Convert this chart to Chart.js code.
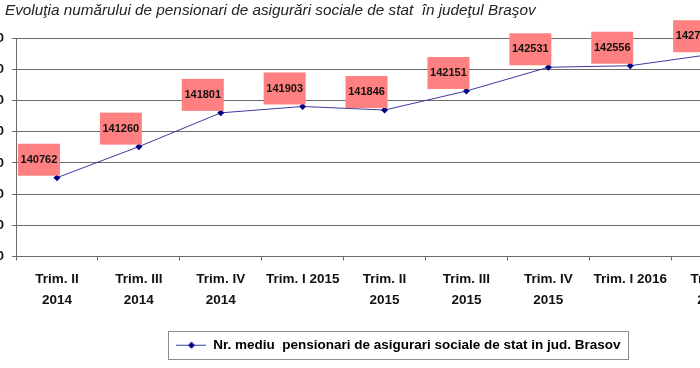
<!DOCTYPE html>
<html>
<head>
<meta charset="utf-8">
<script src="https://cdn.jsdelivr.net/npm/chart.js@4/dist/chart.umd.min.js"></script>
<style>
    body { margin: 0; background: #fff; }
    #wrap { position: relative; width: 700px; height: 368px; overflow: hidden; background: #fff; }
    #title { position: absolute; left: 5px; top: 1px; font: italic 15.3px "Liberation Sans", Arial, sans-serif; color: #222; white-space: pre; }
    #chart { position: absolute; left: -42px; top: 0; }
</style>
</head>
<body>
<div id="wrap">
    <canvas id="chart" width="881" height="368"></canvas>
    <div id="title">Evoluţia numărului de pensionari de asigurări sociale de stat  în judeţul Braşov</div>
</div>
<script>
// quarters (the 10th one lies outside the cropped picture)
const quarters = [
    ['Trim. II', '2014'], ['Trim. III', '2014'], ['Trim. IV', '2014'], 'Trim. I 2015',
    ['Trim. II', '2015'], ['Trim. III', '2015'], ['Trim. IV', '2015'], 'Trim. I 2016',
    ['Trim. II', '2016'], ['Trim. III', '2016']
];
const pensioners = [140762, 141260, 141801, 141903, 141846, 142151, 142531, 142556, 142740, null];
const seriesName = 'Nr. mediu  pensionari de asigurari sociale de stat in jud. Brasov';
const yMin = 139500;
const yMax = 143000;
const yStep = 500;

const gridColor = '#6a6a6a';
const lineColor = '#3a3aa0';
const markerColor = '#000080';
const boxColor = '#ff8080';
const fontFamily = '"Liberation Sans", Arial, sans-serif';

function legendMarker() {
    const c = document.createElement('canvas');
    c.width = 30;
    c.height = 9;
    const ctx = c.getContext('2d');
    ctx.strokeStyle = lineColor;
    ctx.lineWidth = 1;
    ctx.beginPath();
    ctx.moveTo(0, 4.5);
    ctx.lineTo(30, 4.5);
    ctx.stroke();
    ctx.fillStyle = markerColor;
    ctx.beginPath();
    ctx.moveTo(15, 1);
    ctx.lineTo(18.5, 4.5);
    ctx.lineTo(15, 8);
    ctx.lineTo(11.5, 4.5);
    ctx.closePath();
    ctx.fill();
    return c;
}

const valueBoxes = {
    id: 'valueBoxes',
    afterDatasetsDraw(chart) {
        const ctx = chart.ctx;
        const meta = chart.getDatasetMeta(0);
        ctx.save();
        ctx.font = 'bold 11px ' + fontFamily;
        ctx.textAlign = 'center';
        ctx.textBaseline = 'middle';
        meta.data.forEach((pt, i) => {
            const v = pensioners[i];
            if (v == null) return;
            const cx = pt.x - 18;
            const bottom = pt.y - 2;
            ctx.fillStyle = boxColor;
            ctx.fillRect(cx - 21, bottom - 32, 42, 32);
            ctx.fillStyle = '#111';
            ctx.fillText(String(v), cx, bottom - 16);
        });
        ctx.restore();
    }
};

const legendFrame = {
    id: 'legendFrame',
    afterDraw(chart) {
        const lg = chart.legend;
        if (!lg || !lg.legendHitBoxes.length) return;
        const hb = lg.legendHitBoxes[0];
        const ctx = chart.ctx;
        ctx.save();
        ctx.strokeStyle = '#8c8c8c';
        ctx.lineWidth = 1;
        ctx.strokeRect(Math.round(hb.left - 8) + 0.5, Math.round(hb.top - 8) + 0.5, Math.round(hb.width + 16), Math.round(hb.height + 14));
        ctx.restore();
    }
};

new Chart(document.getElementById('chart'), {
    type: 'line',
    data: {
        labels: quarters,
        datasets: [{
            label: seriesName,
            data: pensioners,
            borderColor: lineColor,
            borderWidth: 1,
            backgroundColor: markerColor,
            pointStyle: 'rectRot',
            pointRadius: 3.5,
            pointBackgroundColor: markerColor,
            pointBorderColor: markerColor,
            pointBorderWidth: 0,
            tension: 0,
            fill: false,
            spanGaps: false
        }]
    },
    options: {
        responsive: false,
        animation: false,
        layout: { padding: { top: 38, left: 0, right: 0, bottom: 6 } },
        scales: {
            x: {
                offset: true,
                grid: { offset: true, drawOnChartArea: false, drawTicks: true, tickLength: 4, color: gridColor },
                border: { display: true, color: gridColor },
                ticks: {
                    color: '#111',
                    font: { family: fontFamily, size: 13.5, weight: 'bold', lineHeight: 1.5 },
                    maxRotation: 0,
                    autoSkip: false,
                    padding: 9
                },
                afterFit(scale) { scale.height = 72; }
            },
            y: {
                min: yMin,
                max: yMax,
                grid: { color: gridColor, tickLength: 4 },
                border: { display: true, color: gridColor },
                ticks: {
                    stepSize: yStep,
                    color: '#111',
                    padding: 8,
                    font: { family: fontFamily, size: 13.5, weight: 'bold' },
                    callback: (v) => String(v)
                },
                afterFit(scale) { scale.width = 58; }
            }
        },
        plugins: {
            title: { display: false },
            tooltip: { enabled: false },
            legend: {
                position: 'bottom',
                labels: {
                    usePointStyle: true,
                    pointStyleWidth: 30,
                    padding: 10,
                    color: '#111',
                    font: { family: fontFamily, size: 13.5, weight: 'bold' },
                    generateLabels: (chart) => [{
                        text: seriesName,
                        pointStyle: legendMarker(),
                        fillStyle: markerColor,
                        strokeStyle: markerColor,
                        lineWidth: 0,
                        hidden: false,
                        datasetIndex: 0
                    }]
                }
            }
        }
    },
    plugins: [valueBoxes, legendFrame]
});
</script>
</body>
</html>
